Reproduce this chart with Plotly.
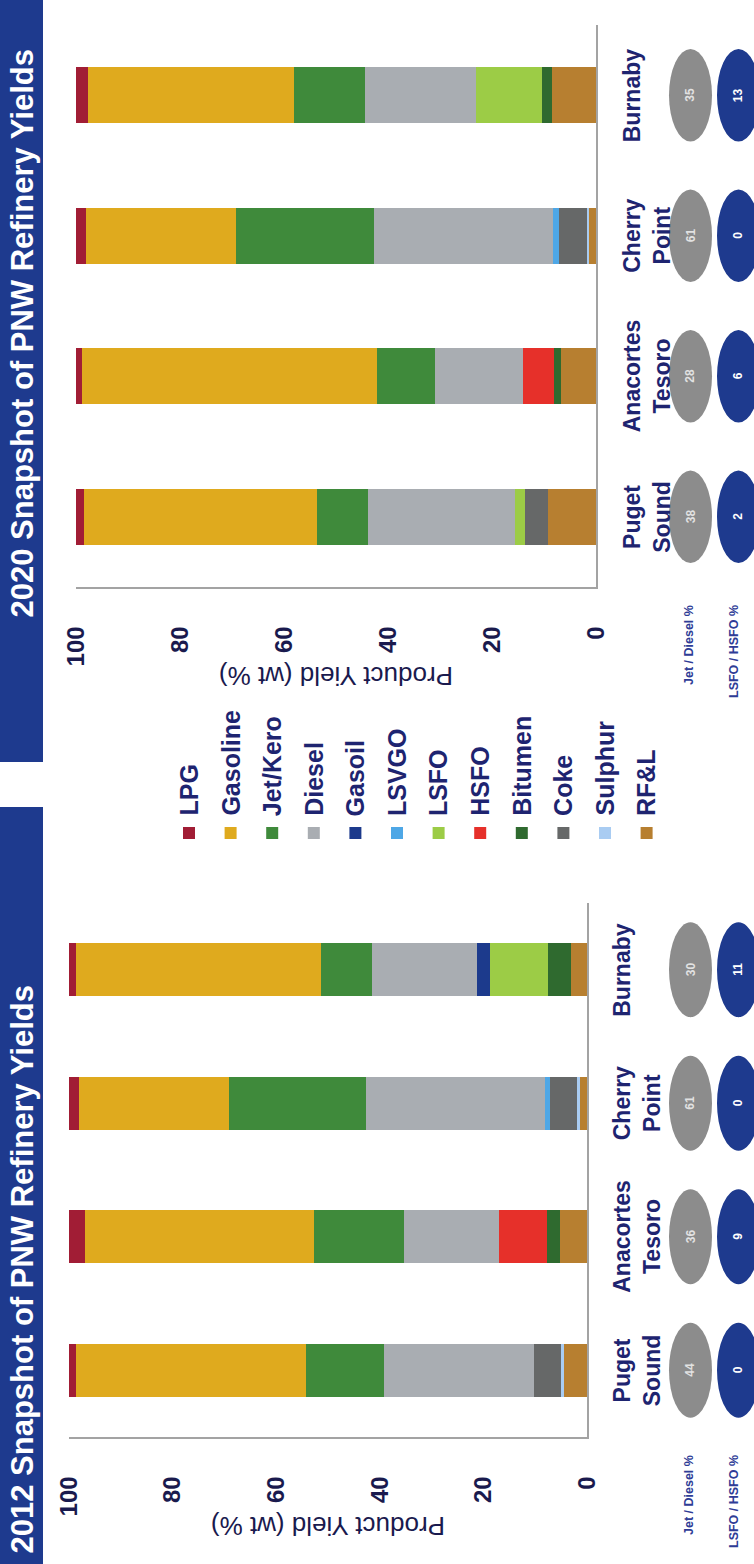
import plotly.graph_objects as go

W, H = 754, 1564

# ---- data -------------------------------------------------------------
sites = ["Puget Sound", "Anacortes Tesoro", "Cherry Point", "Burnaby"]
site_labels = ["Puget<br>Sound", "Anacortes<br>Tesoro", "Cherry<br>Point", "Burnaby"]

products = ["LPG", "Gasoline", "Jet/Kero", "Diesel", "Gasoil", "LSVGO",
            "LSFO", "HSFO", "Bitumen", "Coke", "Sulphur", "RF&L"]
product_colors = ["#A11D35", "#DFAA1E", "#3F8A3B", "#A9ADB2", "#1C3A8C", "#4EA7E6",
                  "#9CCC46", "#E6302A", "#2F6A2F", "#666868", "#A9CCF2", "#B77F30"]

# product yields, wt % (Puget Sound, Anacortes Tesoro, Cherry Point, Burnaby)
lpg_2012 = [1.4, 3.0, 2.0, 1.3]
gasoline_2012 = [44.3, 44.2, 28.8, 47.4]
jet_2012 = [15.1, 17.4, 26.6, 9.8]
diesel_2012 = [28.9, 18.4, 34.4, 20.2]
gasoil_2012 = [0, 0, 0, 2.5]
lsvgo_2012 = [0, 0, 1.1, 0]
lsfo_2012 = [0, 0, 0, 11.2]
hsfo_2012 = [0, 9.3, 0, 0]
bitumen_2012 = [0, 2.4, 0, 4.5]
coke_2012 = [5.3, 0, 5.1, 0]
sulphur_2012 = [0.5, 0, 0.7, 0]
rfl_2012 = [4.5, 5.3, 1.3, 3.1]

lpg_2020 = [1.6, 1.1, 2.0, 2.3]
gasoline_2020 = [44.8, 56.8, 28.7, 39.6]
jet_2020 = [9.7, 11.1, 26.6, 13.7]
diesel_2020 = [28.3, 16.9, 34.4, 21.3]
gasoil_2020 = [0, 0, 0, 0]
lsvgo_2020 = [0, 0, 1.2, 0]
lsfo_2020 = [2.0, 0, 0, 12.7]
hsfo_2020 = [0, 6.0, 0, 0]
bitumen_2020 = [0, 1.3, 0, 2.0]
coke_2020 = [4.4, 0, 5.3, 0]
sulphur_2020 = [0, 0, 0.5, 0]
rfl_2020 = [9.2, 6.8, 1.3, 8.4]

jet_diesel_2012 = [44, 36, 61, 30]
fuel_oil_2012 = [0, 9, 0, 11]
jet_diesel_2020 = [38, 28, 61, 35]
fuel_oil_2020 = [2, 6, 0, 13]

yields_2012 = [lpg_2012, gasoline_2012, jet_2012, diesel_2012, gasoil_2012, lsvgo_2012,
               lsfo_2012, hsfo_2012, bitumen_2012, coke_2012, sulphur_2012, rfl_2012]
yields_2020 = [lpg_2020, gasoline_2020, jet_2020, diesel_2020, gasoil_2020, lsvgo_2020,
               lsfo_2020, hsfo_2020, bitumen_2020, coke_2020, sulphur_2020, rfl_2020]

# ---- styling ------------------------------------------------------------
FONT = "Arial, Liberation Sans, sans-serif"
NAVY_TEXT = "#1E2470"
TITLE_BLUE = "#1E3A8E"
ELLIPSE_GRAY = "#8C8C8C"
ELLIPSE_BLUE = "#1E3A8E"
AXIS_LINE = "#A3A3A3"


def px(x):
    return x / W


def py(y):
    return 1 - y / H


fig = go.Figure()

# panel geometry in pixels: (x of 100 %, x of 0 %, top, bottom)
panels = [
    dict(year="2020", xa="x", ya="y", vals=yields_2020, jd=jet_diesel_2020, fo=fuel_oil_2020,
         x100=76, x0=596, top=25, bottom=587, title_start=620, label_x=617, half=0.33,
         band=(0, 762)),
    dict(year="2012", xa="x2", ya="y2", vals=yields_2012, jd=jet_diesel_2012, fo=fuel_oil_2012,
         x100=69, x0=587, top=903, bottom=1437, title_start=1556, label_x=607, half=0.355,
         band=(807, H)),
]

shapes = []
annotations = []


def note(text, x, y, size, color, xref="paper", yref="paper", xanchor="center",
         yanchor="middle", angle=-90, weight="normal", align="center"):
    annotations.append(dict(
        text=text, xref=xref, yref=yref, x=x, y=y, xanchor=xanchor, yanchor=yanchor,
        textangle=angle, showarrow=False, align=align,
        font=dict(family=FONT, size=size, color=color, weight=weight),
    ))


for p in panels:
    # stacked bars: first trace sits at 0 %, so add from the bottom of the stack up
    for name, color, vals in reversed(list(zip(products, product_colors, p["vals"]))):
        fig.add_trace(go.Bar(
            y=sites, x=vals, name=name, orientation="h",
            marker=dict(color=color, line=dict(width=0)),
            xaxis=p["xa"], yaxis=p["ya"], showlegend=False,
        ))

    axis_suffix = "" if p["xa"] == "x" else "2"
    fig.layout["xaxis" + axis_suffix] = dict(
        domain=[px(p["x100"]), px(p["x0"])], range=[100, 0], anchor=p["ya"],
        tickvals=[0, 20, 40, 60, 80, 100], tickangle=-90, ticks="",
        ticklabelstandoff=28,
        tickfont=dict(family=FONT, size=24, color="#1A1A4E", weight="bold"),
        showline=True, linecolor=AXIS_LINE, linewidth=1.5,
        showgrid=False, zeroline=False, automargin=False, fixedrange=True,
    )
    fig.layout["yaxis" + axis_suffix] = dict(
        domain=[py(p["bottom"]), py(p["top"])], type="category",
        categoryorder="array", categoryarray=sites, range=[-0.5, 3.5],
        anchor=p["xa"], side="right", showticklabels=False, ticks="",
        showline=True, linecolor=AXIS_LINE, linewidth=1.5,
        showgrid=False, zeroline=False, automargin=False, fixedrange=True,
    )

    # value-axis title (reads upside down)
    note("Product Yield (wt %)", px((p["x100"] + p["x0"]) / 2), py(p["bottom"] + 89),
         26, "#1A1A4E", angle=180)

    # title banner
    y_top, y_bot = p["band"]
    shapes.append(dict(type="rect", xref="paper", yref="paper",
                       x0=0, x1=px(43), y0=py(y_bot), y1=py(y_top),
                       fillcolor=TITLE_BLUE, line=dict(width=0), layer="below"))
    note(f"{p['year']} Snapshot of PNW Refinery Yields", px(22), py(p["title_start"]),
         31, "white", yanchor="bottom", weight="bold")

    # refinery names and ratio ellipses
    for i, site in enumerate(sites):
        note(site_labels[i], px(p["label_x"]), site, 23, NAVY_TEXT,
             yref=p["ya"], xanchor="left", weight="bold")
        shapes.append(dict(type="circle", xref="paper", yref=p["ya"],
                           x0=px(669), x1=px(712), y0=i - p["half"], y1=i + p["half"],
                           fillcolor=ELLIPSE_GRAY, line=dict(width=0)))
        shapes.append(dict(type="circle", xref="paper", yref=p["ya"],
                           x0=px(717), x1=px(760), y0=i - p["half"], y1=i + p["half"],
                           fillcolor=ELLIPSE_BLUE, line=dict(width=0)))
        note(str(p["jd"][i]), px(690.5), site, 12, "#E2E2E2", yref=p["ya"], weight="bold")
        note(str(p["fo"][i]), px(738), site, 12, "white", yref=p["ya"], weight="bold")

    # ratio captions
    note("Jet / Diesel %", px(689), py(p["bottom"] + 58), 12.5, "#2E3C96", weight="bold")
    note("LSFO / HSFO %", px(734), py(p["bottom"] + 65), 12.5, "#2E3C96", weight="bold")

# shared legend between the two panels
for i, (name, color) in enumerate(zip(products, product_colors)):
    xc = 189 + i * 41.6
    shapes.append(dict(type="rect", xref="paper", yref="paper",
                       x0=px(xc - 6), x1=px(xc + 6), y0=py(839), y1=py(827),
                       fillcolor=color, line=dict(width=0)))
    note(name, px(xc), py(818), 25, NAVY_TEXT, yanchor="bottom", weight="bold")

fig.update_layout(
    width=W, height=H, margin=dict(l=0, r=0, t=0, b=0),
    paper_bgcolor="white", plot_bgcolor="white",
    barmode="stack", bargap=0.6, showlegend=False,
    shapes=shapes, annotations=annotations,
)

fig.write_html("out.html", config={"displayModeBar": False})
